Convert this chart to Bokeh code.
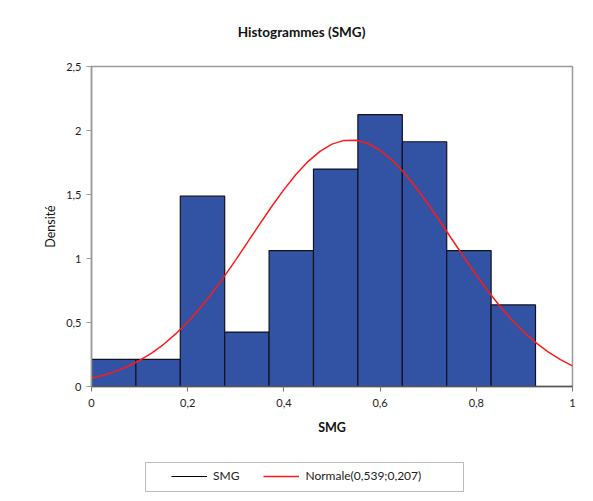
from bokeh.plotting import figure
from bokeh.models import (Range1d, FixedTicker, Legend, LegendItem, Label, ColumnDataSource,
                          BoxAnnotation)
from bokeh.layouts import column
from bokeh.embed import file_html
from bokeh.resources import INLINE

# Histogram bins (SMG) and densities
bin_left = [0.0, 0.0923, 0.1846, 0.2769, 0.3692, 0.4615, 0.5538, 0.6462, 0.7385, 0.8308]
bin_right = [0.0923, 0.1846, 0.2769, 0.3692, 0.4615, 0.5538, 0.6462, 0.7385, 0.8308, 0.9231]
density = [0.212, 0.212, 1.487, 0.425, 1.062, 1.699, 2.124, 1.912, 1.062, 0.637]

# Normal(0,539;0,207) curve points
curve_x = [0.0, 0.025, 0.05, 0.075, 0.1, 0.125, 0.15, 0.175, 0.2, 0.225, 0.25, 0.275,
           0.3, 0.325, 0.35, 0.375, 0.4, 0.425, 0.45, 0.475, 0.5, 0.525, 0.55, 0.575,
           0.6, 0.625, 0.65, 0.675, 0.7, 0.725, 0.75, 0.775, 0.8, 0.825, 0.85, 0.875,
           0.9, 0.925, 0.95, 0.975, 1.0]
curve_y = [0.0650, 0.0883, 0.1183, 0.1563, 0.2034, 0.2608, 0.3297, 0.4106, 0.5041, 0.6099,
           0.7272, 0.8545, 0.9896, 1.1294, 1.2704, 1.4081, 1.5382, 1.6561, 1.7570, 1.8373,
           1.8933, 1.9228, 1.9245, 1.8983, 1.8453, 1.7679, 1.6692, 1.5531, 1.4242, 1.2871,
           1.1463, 1.0062, 0.8704, 0.7421, 0.6234, 0.5162, 0.4212, 0.3387, 0.2685, 0.2097,
           0.1614]

x_ticks = [0, 0.2, 0.4, 0.6, 0.8, 1]
x_tick_labels = ["0", "0,2", "0,4", "0,6", "0,8", "1"]
y_ticks = [0, 0.5, 1, 1.5, 2, 2.5]
y_tick_labels = ["0", "0,5", "1", "1,5", "2", "2,5"]

FONT = "Lato"
LEFT, FRAME_W, RIGHT = 91, 481, 21


def strip(h):
    # frame aligned with the main chart; data units = page pixels horizontally
    f = figure(frame_width=FRAME_W, frame_height=h,
               min_border_left=LEFT, min_border_right=RIGHT,
               min_border_top=0, min_border_bottom=0,
               x_range=Range1d(LEFT, LEFT + FRAME_W), y_range=Range1d(0, h),
               output_backend="svg", toolbar_location=None, tools="")
    f.axis.visible = False
    f.grid.visible = False
    f.outline_line_color = None
    f.background_fill_color = "white"
    f.border_fill_color = "white"
    return f


# ---- title strip ----
top = strip(50)
top.add_layout(Label(x=301, y=19, text="Histogrammes (SMG)", text_font=FONT,
                     text_font_size="13.5px", text_font_style="bold",
                     text_align="center", text_baseline="middle", text_color="#111111"))

# ---- main chart ----
p = figure(frame_width=FRAME_W, frame_height=320,
           min_border_left=LEFT, min_border_right=RIGHT, min_border_top=16, min_border_bottom=60,
           x_range=Range1d(0, 1), y_range=Range1d(0, 2.5),
           output_backend="svg", toolbar_location=None, tools="")

p.background_fill_color = "white"
p.border_fill_color = "white"
p.outline_line_color = "#9a9a9a"
p.outline_line_width = 1.5
p.xgrid.visible = False
p.ygrid.visible = False

src = ColumnDataSource(dict(left=bin_left, right=bin_right, top=density,
                            bottom=[0] * len(density)))
p.quad(left="left", right="right", top="top", bottom="bottom", source=src,
       fill_color="#3253A4", line_color="#111122", line_width=1.2)
p.line(x=curve_x, y=curve_y, line_color="#FF1A1A", line_width=1.5)

p.xaxis.ticker = FixedTicker(ticks=x_ticks)
p.xaxis.major_label_overrides = {t: l for t, l in zip(x_ticks, x_tick_labels)}
p.yaxis.ticker = FixedTicker(ticks=y_ticks)
p.yaxis.major_label_overrides = {t: l for t, l in zip(y_ticks, y_tick_labels)}
for ax in (p.xaxis[0], p.yaxis[0]):
    ax.major_tick_in = 0
    ax.major_tick_out = 5
    ax.minor_tick_in = 0
    ax.minor_tick_out = 0
    ax.major_label_text_font = FONT
    ax.major_label_text_font_size = "11px"
    ax.major_label_text_color = "#222222"
    ax.axis_label_text_font = FONT
    ax.axis_label_text_font_size = "12.5px"
    ax.axis_label_text_font_style = "bold"
    ax.axis_label_text_color = "#111111"

p.xaxis.axis_line_color = "#555555"
p.xaxis.major_tick_line_color = "#777777"
p.xaxis.axis_line_width = 1.5
p.yaxis.axis_line_color = "#9a9a9a"
p.yaxis.major_tick_line_color = "#9a9a9a"
p.yaxis.axis_line_width = 1.5
p.xaxis.major_label_standoff = 7
p.yaxis.major_label_standoff = 5
p.xaxis.axis_label = "SMG"
p.xaxis.axis_label_standoff = 10
p.yaxis.axis_label = "Densité"
p.yaxis.axis_label_standoff = 5
p.yaxis.axis_label_text_font_style = "normal"

# ---- legend strip ----
leg = strip(55)
# the series are drawn here only for their legend glyphs (they fall outside this strip's view)
smg_line = leg.line(x=bin_left, y=density, line_color="black", line_width=1.2)
norm_line = leg.line(x=curve_x, y=curve_y, line_color="#FF1A1A", line_width=1.5)
leg.y_range = Range1d(10, 65)
leg.add_layout(BoxAnnotation(left=145, right=463, bottom=20, top=49,
                             fill_color="white", fill_alpha=1,
                             line_color="#222222", line_width=1))
legend = Legend(items=[LegendItem(label="SMG", renderers=[smg_line]),
                       LegendItem(label="Normale(0,539;0,207)", renderers=[norm_line])],
                orientation="horizontal", location=(80, 18),
                border_line_color=None, background_fill_alpha=0,
                label_text_font=FONT, label_text_font_size="12px",
                label_text_color="#222222",
                glyph_width=36, glyph_height=12, spacing=24, padding=0,
                margin=0, label_standoff=6)
leg.add_layout(legend, "center")

layout = column(top, p, leg, spacing=0)
open("out.html", "w").write(file_html(layout, INLINE))
